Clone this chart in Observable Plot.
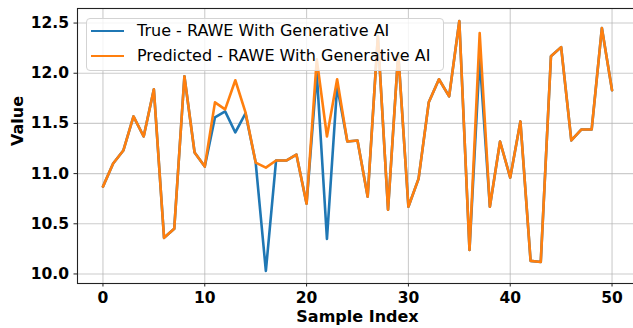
<!DOCTYPE html>
<html><head><meta charset="utf-8">
<script src="https://cdn.jsdelivr.net/npm/d3@7"></script>
<script src="https://cdn.jsdelivr.net/npm/@observablehq/plot@0.6"></script>
<style>
html,body{margin:0;padding:0;background:#fff;overflow:hidden;}
#wrap{position:relative;width:633px;height:328px;overflow:hidden;font-family:"DejaVu Sans",sans-serif;}
#wrap svg{position:absolute;left:0;top:0;max-width:none;}
.leg{position:absolute;left:86px;top:18px;width:358px;height:53px;box-sizing:border-box;border:1px solid #d3d3d3;border-radius:4px;background:rgba(255,255,255,0.8);}
.sw{position:absolute;left:91px;width:33px;height:2.7px;}
.lt{position:absolute;left:137px;font-size:16px;line-height:20px;color:#000;white-space:nowrap;}
</style></head><body><div id="wrap"></div>
<script>
const sampleIndex = d3.range(51);
const trueValues = [10.87, 11.10, 11.23, 11.57, 11.37, 11.84, 10.36, 10.45, 11.97, 11.21,
  11.07, 11.56, 11.62, 11.41, 11.60, 11.11, 10.03, 11.13, 11.13, 11.19,
  10.70, 12.00, 10.35, 11.87, 11.32, 11.33, 10.77, 12.37, 10.64, 12.20,
  10.67, 10.95, 11.71, 11.94, 11.77, 12.52, 10.24, 12.15, 10.67, 11.32,
  10.96, 11.52, 10.13, 10.12, 12.17, 12.26, 11.33, 11.44, 11.44, 12.45, 11.83];
const predictedValues = [10.87, 11.10, 11.23, 11.57, 11.37, 11.84, 10.36, 10.45, 11.97, 11.21,
  11.07, 11.71, 11.64, 11.93, 11.61, 11.11, 11.06, 11.13, 11.13, 11.19,
  10.70, 12.14, 11.37, 11.94, 11.32, 11.33, 10.77, 12.37, 10.64, 12.20,
  10.67, 10.95, 11.71, 11.94, 11.77, 12.52, 10.24, 12.40, 10.67, 11.32,
  10.96, 11.52, 10.13, 10.12, 12.17, 12.26, 11.33, 11.44, 11.44, 12.45, 11.83];
const seriesNames = ["True - RAWE With Generative AI", "Predicted - RAWE With Generative AI"];
const seriesColors = ["#1f77b4", "#ff7f0e"];
const xTicks = [0, 10, 20, 30, 40, 50];
const yTicks = [10.0, 10.5, 11.0, 11.5, 12.0, 12.5];
const xDomain = [-2.5, 52.5];
const yDomain = [9.905, 12.645];
const xLabel = "Sample Index";
const yLabel = "Value";

const chart = Plot.plot({
  width: 640, height: 328,
  marginLeft: 77, marginRight: 3, marginTop: 8, marginBottom: 45,
  style: {fontFamily: "DejaVu Sans", background: "white", color: "#000"},
  x: {domain: xDomain},
  y: {domain: yDomain},
  marks: [
    Plot.gridX(xTicks, {stroke: "#b0b0b0", strokeOpacity: 0.65, strokeWidth: 1.1}),
    Plot.gridY(yTicks, {stroke: "#b0b0b0", strokeOpacity: 0.65, strokeWidth: 1.1}),
    Plot.line(sampleIndex, {x: i => i, y: i => trueValues[i], stroke: seriesColors[0], strokeWidth: 2.6}),
    Plot.line(sampleIndex, {x: i => i, y: i => predictedValues[i], stroke: seriesColors[1], strokeWidth: 2.6}),
    Plot.frame({stroke: "#222", strokeWidth: 1.1}),
    Plot.axisX(xTicks, {tickSize: 3.5, tickPadding: 5, fontSize: 15.5, fontWeight: "bold", label: null, stroke: "#222"}),
    Plot.axisY(yTicks, {tickSize: 3.5, tickPadding: 5, tickFormat: d3.format(".1f"), fontSize: 15.5, fontWeight: "bold", label: null, stroke: "#222"}),
    Plot.text([xLabel], {frameAnchor: "bottom", dx: 0, dy: 38, fontSize: 16, fontWeight: "bold"}),
    Plot.text([yLabel], {frameAnchor: "left", dx: -60, rotate: -90, fontSize: 16, fontWeight: "bold"})
  ]
});
const wrap = document.getElementById("wrap");
wrap.appendChild(chart);
const leg = document.createElement("div");
leg.className = "leg";
wrap.appendChild(leg);
const rowCenters = [31, 56];
seriesNames.forEach((name, k) => {
  const sw = document.createElement("div");
  sw.className = "sw";
  sw.style.top = (rowCenters[k] - 1.35) + "px";
  sw.style.background = seriesColors[k];
  wrap.appendChild(sw);
  const t = document.createElement("div");
  t.className = "lt";
  t.style.top = (rowCenters[k] - 10.3) + "px";
  t.textContent = name;
  wrap.appendChild(t);
});
</script></body></html>
